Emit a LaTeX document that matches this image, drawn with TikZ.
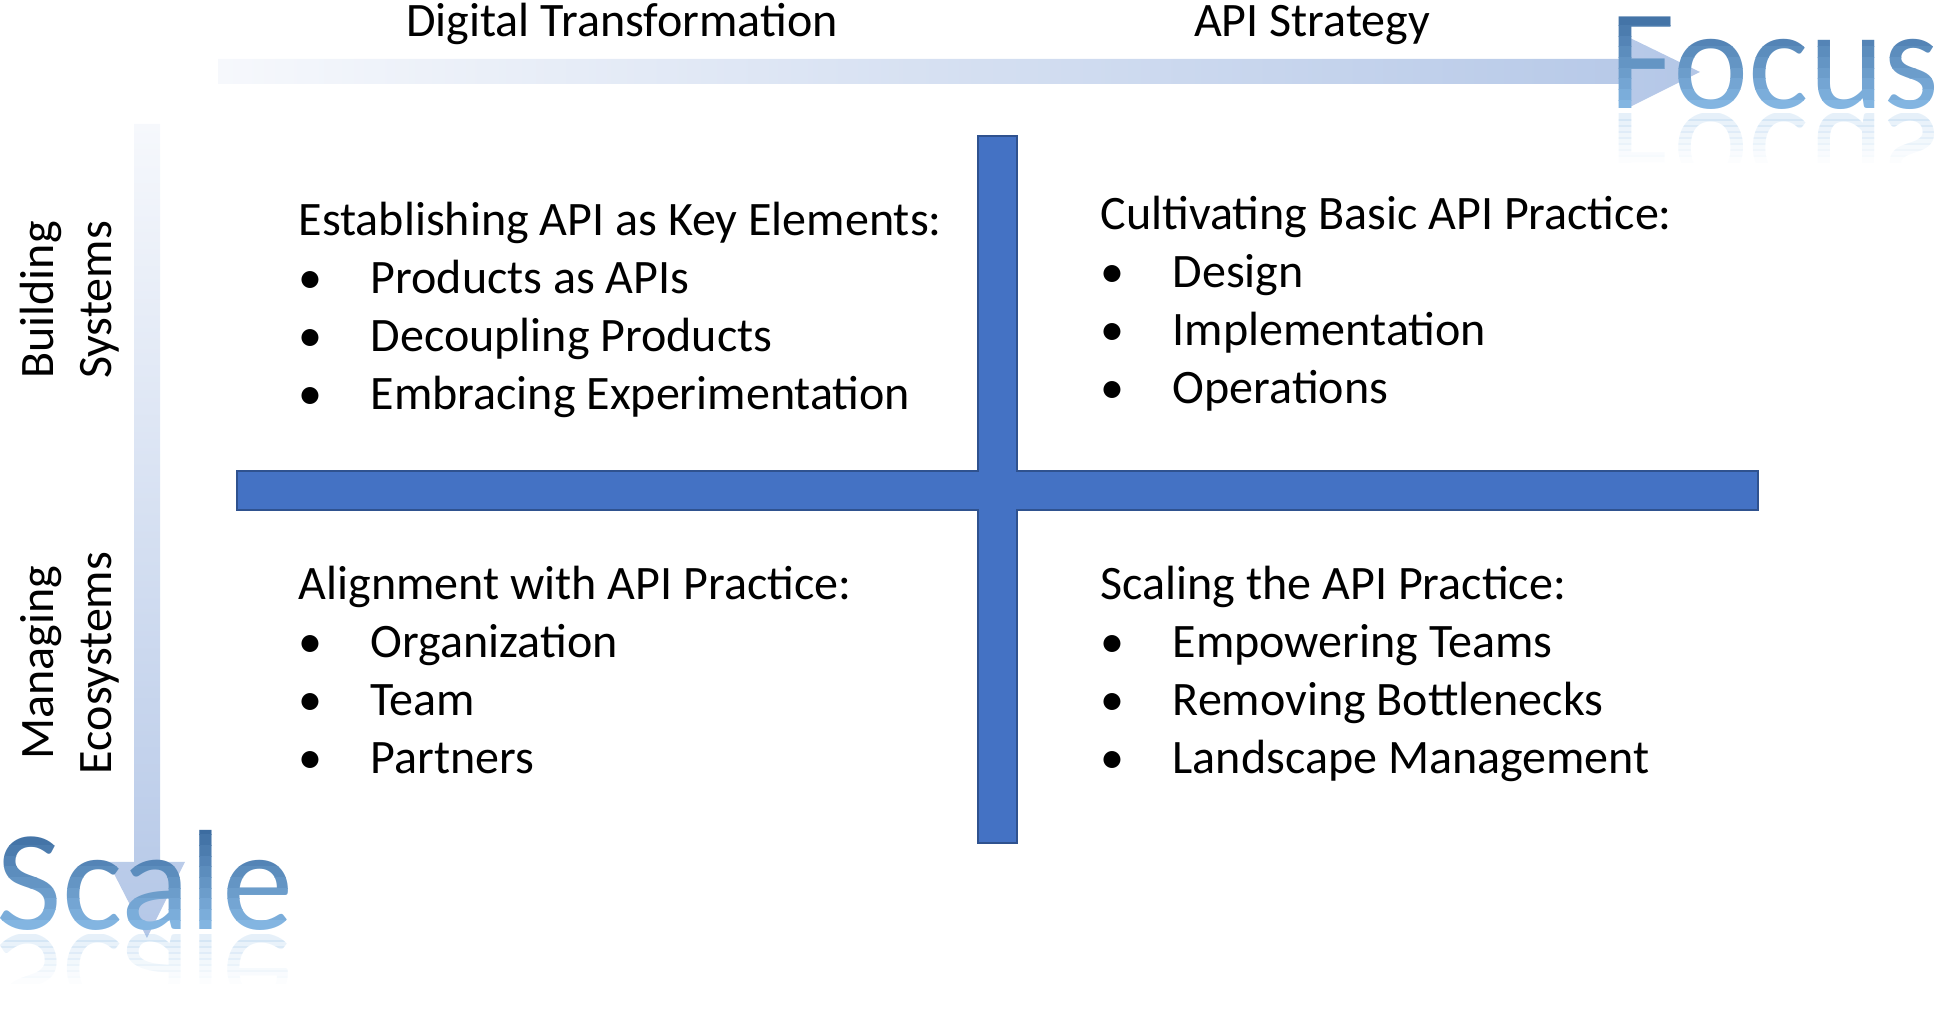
\documentclass[tikz,border=0pt]{standalone}
\usepackage{fontspec}
\setmainfont{Carlito}
\definecolor{barblue}{HTML}{4472C4}
\definecolor{baredge}{HTML}{2F528F}
\definecolor{arrowlight}{HTML}{F6F8FC}
\definecolor{arrowdark}{HTML}{B4C7E7}
\definecolor{bigtop}{RGB}{60,108,160}
\definecolor{bigbot}{RGB}{132,182,226}
\newcommand{\bul}{\makebox[0.72cm][l]{\textbullet}}
\tikzset{
  lbl/.style={inner sep=0pt, font=\fontsize{13.66}{16.5}\selectfont},
  quad/.style={lbl, align=left, anchor=base west},
  side/.style={lbl, align=center, rotate=90},
  bigword/.style={inner sep=0pt, anchor=base west, font=\fontsize{40.6}{41}\selectfont},
}
\begin{document}
\begin{tikzpicture}[x=0.01cm, y=-0.01cm]
\useasboundingbox (0,0) rectangle (1944,1031);

% focus and scale arrows
\shade[left color=arrowlight, right color=arrowdark] (218,59) -- (1628,59) -- (1628,37) -- (1700,72) -- (1628,108) -- (1628,84) -- (218,84) -- cycle;
\shade[top color=arrowlight, bottom color=arrowdark] (134,124) -- (160,124) -- (160,862) -- (185,862) -- (147,938) -- (108,862) -- (134,862) -- cycle;

% the cross
\draw[fill=barblue, draw=baredge, line width=0.6pt] (978,136) -- (1017,136) -- (1017,471) -- (1758,471) -- (1758,510) -- (1017,510) -- (1017,843) -- (978,843) -- (978,510) -- (237,510) -- (237,471) -- (978,471) -- cycle;

% axis labels
\node[lbl, anchor=base] (dt) at (622,37) {Digital Transformation};
\node[lbl, anchor=base] (as) at (1312,37) {API Strategy};
\node[side] (bs) at (70,300) {Building\\Systems};
\node[side] (me) at (70,663) {Managing\\Ecosystems};

% quadrants (base = last line)
\node[quad] (tl) at (298,410) {Establishing API as Key Elements:\\
  \bul Products as APIs\\ \bul Decoupling Products\\ \bul Embracing Experimentation};
\node[quad] (tr) at (1100,404) {Cultivating Basic API Practice:\\
  \bul Design\\ \bul Implementation\\ \bul Operations};
\node[quad] (bl) at (298,774) {Alignment with API Practice:\\
  \bul Organization\\ \bul Team\\ \bul Partners};
\node[quad] (br) at (1100,774) {Scaling the API Practice:\\
  \bul Empowering Teams\\ \bul Removing Bottlenecks\\ \bul Landscape Management};

% big words, shaded in slices, with a faded mirror image
\foreach \i in {0,...,9} {
  \pgfmathtruncatemacro{\mixval}{100-\i*11}
  \colorlet{slice}{bigtop!\mixval!bigbot}
  \begin{scope}
    \clip (1560,{4+\i*10.7}) rectangle (1944,{14.8+\i*10.7});
    \node[bigword, text=slice] (focus\i) at (1609,109) {Focus};
  \end{scope}
  \begin{scope}
    \clip (-10,{824+\i*10.7}) rectangle (330,{834.8+\i*10.7});
    \node[bigword, text=slice] (scale\i) at (-4,930) {Scale};
  \end{scope}
}
\foreach \i in {0,...,7} {
  \pgfmathsetmacro{\op}{0.2-\i*0.025}
  \begin{scope}
    \clip (1560,{114+\i*6}) rectangle (1944,{120.1+\i*6});
    \begin{scope}[shift={(1609,114)}, yscale=-1, transform shape]
      \node[bigword, text=bigbot, opacity=\op] (focusm\i) at (0,0) {Focus};
    \end{scope}
  \end{scope}
  \begin{scope}
    \clip (-10,{935+\i*6}) rectangle (330,{941.1+\i*6});
    \begin{scope}[shift={(-4,935)}, yscale=-1, transform shape]
      \node[bigword, text=bigbot, opacity=\op] (scalem\i) at (0,0) {Scale};
    \end{scope}
  \end{scope}
}
\end{tikzpicture}
\end{document}
